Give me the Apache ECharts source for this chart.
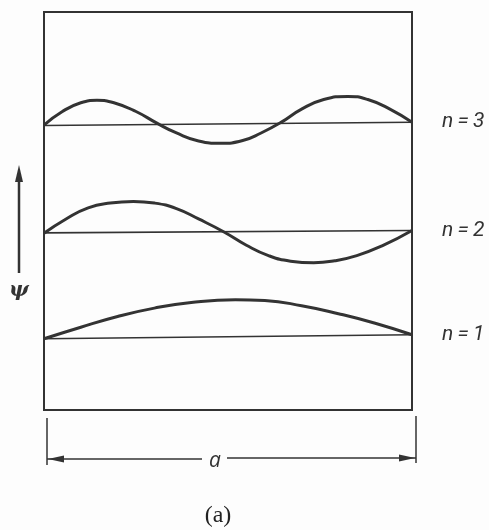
<!DOCTYPE html>
<html>
<head>
<meta charset="utf-8">
<script src="https://cdn.jsdelivr.net/npm/echarts@6/dist/echarts.min.js"></script>
<style>html,body{margin:0;padding:0;background:#fdfdfd;}#c{width:489px;height:530px;}</style>
</head>
<body>
<div id="c"></div>
<script>
// Wavefunction curves: [x / a, psi level]
var psi3 = [[0,71.6],[0.05,75.0],[0.10,77.2],[0.144,77.8],[0.19,77.2],[0.25,75.0],[0.308,72.0],[0.36,69.6],[0.42,67.6],[0.48,67.0],[0.54,67.7],[0.59,69.6],[0.643,72.2],[0.70,75.6],[0.76,78.0],[0.826,78.8],[0.88,78.0],[0.94,75.6],[1,72.3]];
var psi2 = [[0,44.4],[0.06,48.0],[0.12,50.8],[0.18,52.0],[0.243,52.4],[0.30,52.0],[0.36,50.6],[0.42,48.0],[0.488,44.8],[0.55,41.4],[0.61,38.8],[0.67,37.4],[0.733,37.0],[0.79,37.5],[0.85,38.8],[0.92,41.3],[1,45.1]];
var psi1 = [[0,17.9],[0.1,20.8],[0.2,23.5],[0.3,25.6],[0.4,27.0],[0.52,27.7],[0.6,27.5],[0.7,26.2],[0.8,24.2],[0.9,21.8],[1,18.9]];
// Zero lines for each level
var base3 = [[0,71.5],[1,72.3]];
var base2 = [[0,44.5],[1,45.1]];
var base1 = [[0,17.9],[1,18.9]];
var levelLabels = ['n\u2009=\u20093','n\u2009=\u20092','n\u2009=\u20091'];

var ink = '#333333';
var chart = echarts.init(document.getElementById('c'));
function baseSeries(d, label) {
  return {type:'line', data:d, symbol:'none', silent:true,
    lineStyle:{color:ink, width:1.6},
    endLabel:{show:true, formatter:label, color:ink, fontFamily:'Roboto', fontSize:21, fontStyle:'italic', fontWeight:400, distance:30}};
}
function curve(d) {
  return {type:'line', data:d, symbol:'none', smooth:0.5, silent:true, lineStyle:{color:ink, width:3}};
}
chart.setOption({
  animation:false,
  backgroundColor:'#fdfdfd',
  grid:{left:44, right:77, top:12, bottom:120, show:true, borderColor:ink, borderWidth:2, backgroundColor:'transparent'},
  xAxis:{type:'value', min:0, max:1, show:false},
  yAxis:{type:'value', min:0, max:100, show:false},
  series:[
    baseSeries(base3, levelLabels[0]), curve(psi3),
    baseSeries(base2, levelLabels[1]), curve(psi2),
    baseSeries(base1, levelLabels[2]), curve(psi1)
  ],
  graphic:[
    // psi arrow
    {type:'line', shape:{x1:19, y1:178, x2:19, y2:273}, style:{stroke:ink, lineWidth:2.5}},
    {type:'polygon', shape:{points:[[19,165],[15,182],[23,182]]}, style:{fill:ink}},
    {type:'text', style:{text:'\u03C8', x:19, y:291, align:'center', verticalAlign:'middle', font:'bold italic 21px "DejaVu Serif"', fill:ink}},
    // dimension line
    {type:'line', shape:{x1:47, y1:418, x2:47, y2:465}, style:{stroke:ink, lineWidth:1.5}},
    {type:'line', shape:{x1:416, y1:416, x2:416, y2:463}, style:{stroke:ink, lineWidth:1.5}},
    {type:'line', shape:{x1:47, y1:459, x2:202, y2:459}, style:{stroke:ink, lineWidth:1.3}},
    {type:'line', shape:{x1:227, y1:458, x2:416, y2:458}, style:{stroke:ink, lineWidth:1.3}},
    {type:'polygon', shape:{points:[[48,459],[64,455.5],[64,462.5]]}, style:{fill:ink}},
    {type:'polygon', shape:{points:[[415,458],[399,454.5],[399,461.5]]}, style:{fill:ink}},
    {type:'text', style:{text:'a', x:215, y:461, align:'center', verticalAlign:'middle', font:'italic 21px "Open Sans"', fill:ink}},
    {type:'text', style:{text:'(a)', x:218, y:516, align:'center', verticalAlign:'middle', font:'24px "Liberation Serif"', fill:'#222'}}
  ]
});
</script>
</body>
</html>
